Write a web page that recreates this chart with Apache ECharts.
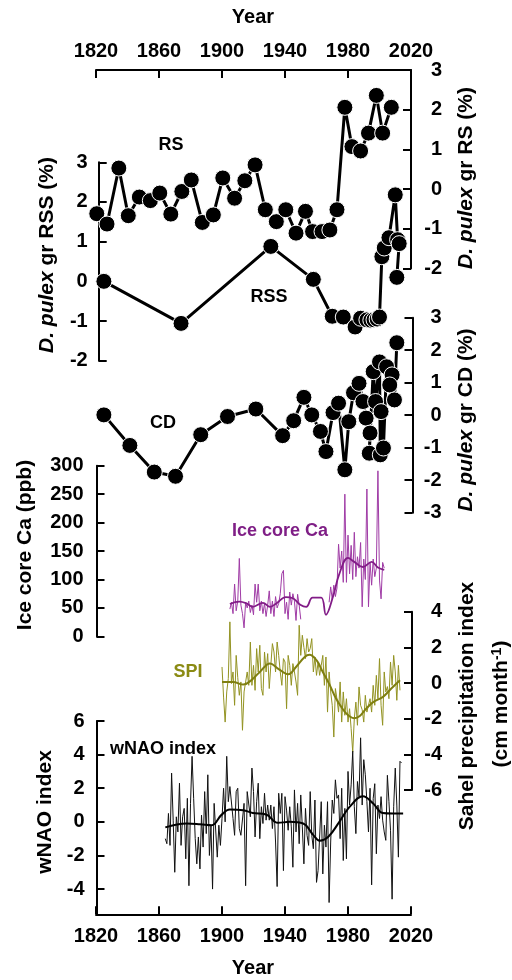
<!DOCTYPE html>
<html>
<head>
<meta charset="utf-8">
<script src="https://cdn.jsdelivr.net/npm/echarts@6/dist/echarts.min.js"></script>
<style>
  html, body { margin: 0; padding: 0; background: #fff; }
  #chart { width: 512px; height: 980px; }
</style>
</head>
<body>
<div id="chart"></div>
<script>
// 字体
const FONT = "Liberation Sans, Arial, sans-serif";

// D. pulex gr RS (%)，右轴
const rsYears = [1820.5, 1827, 1834.5, 1840.5, 1847.5, 1854.5, 1860.5, 1867.5, 1874.5, 1880.5, 1887.5, 1894.5, 1900.5, 1908, 1914.5, 1921,
  1927.5, 1934.5, 1940.5, 1947, 1953, 1957.5, 1963.5, 1968.5, 1973, 1978, 1982.5, 1988, 1993, 1998, 2002, 2007.5];
const rsValues = [-0.62, -0.88, 0.53, -0.67, -0.2, -0.29, -0.1, -0.63, -0.06, 0.23, -0.84, -0.65, 0.28, -0.23, 0.21, 0.61,
  -0.52, -0.82, -0.52, -1.11, -0.56, -1.07, -1.07, -1.03, -0.52, 2.06, 1.07, 0.96, 1.41, 2.36, 1.41, 2.06];

// D. pulex gr RSS (%)，左轴
const rssYears = [1825, 1874, 1931, 1958, 1970, 1977, 1984.5, 1988, 1992, 1994.5, 1996.5, 1998.5, 2000, 2001.5, 2003, 2006, 2010, 2011.5, 2012.5, 2011];
const rssValues = [0, -1.06, 0.88, 0.05, -0.88, -0.9, -1.15, -0.93, -0.97, -0.98, -0.97, -0.95, -0.9, 0.62, 0.84, 1.1, 2.18, 1.05, 0.95, 0.1];

// D. pulex gr CD (%)，右轴
const cdYears = [1825, 1841.5, 1857, 1870.5, 1886.5, 1903.5, 1921.5, 1938.5, 1945.5, 1952, 1957, 1962.5, 1966, 1970.5, 1974, 1978, 1980.5,
  1983.5, 1987, 1989.5, 1991.5, 1994, 1993.5, 1996, 1997.5, 2000, 2000.5, 2001, 2002.5, 2004.5, 2008, 2006.5, 2009.5, 2011];
const cdValues = [0.01, -0.93, -1.75, -1.88, -0.6, -0.04, 0.19, -0.63, -0.17, 0.55, 0.01, -0.5, -1.12, 0.08, 0.37, -1.68, -0.2,
  0.69, 0.98, 0.42, -0.09, -0.55, -1.17, 1.34, 0.42, 1.64, -1.22, 0.11, -1.01, 1.49, 1.24, 0.93, 0.47, 2.23];

// 冰芯 Ca (ppb)，1905 起逐年，1951-1967 缺测
const caStart = 1905;
const caValues = [
  48, 60, 40, 92, 45, 62, 137, 55, 40, 15,
  60, 50, 62, 42, 55, 38, 92, 60, 92, 45,
  62, 40, 58, 35, 55, 80, 40, 62, 35, 70,
  50, 58, 75, 110, 116, 40, 60, 30, 78, 55,
  75, 62, 28, 74, 55, 30,
  null, null, null, null, null, null, null, null, null, null, null, null, null, null, null, null, null,
  60, 87, 65, 90, 70, 85, 162, 120, 150, 95,
  250, 95, 178, 110, 160, 100, 183, 105, 140, 120,
  165, 52, 136, 100, 259, 52, 130, 90, 136, 105,
  120, 291, 99, 66, 130, 120
];
const caSmoothYears = [1905, 1911, 1915.5, 1919.5, 1926, 1930.5, 1934.5, 1940.5, 1945, 1950, 1953.5, 1957.5, 1963, 1966, 1970.5, 1974.5, 1980, 1984, 1989.5, 1995, 1999, 2003];
const caSmoothValues = [57, 61, 58, 52, 59, 52, 58, 69, 67, 55, 52, 68, 68, 38, 70, 110, 138, 131, 122, 131, 121, 117];

// Sahel 降水指数 SPI，1900 起逐年
const spiStart = 1900;
const spiValues = [
  0.9, -0.79, -2.19, -0.5, 0.25, 3.43, -0.03, 0.62, -1.25, 1.55, 0.3,
  -0.69, 0.06, -2.65, -0.5, 0.06, 0.62, -0.13, 2.3, -0.13, 0.99,
  -0.41, 1.93, 0.62, 2.12, -0.31, -0.69, 1.74, 0.62, 1.65, -0.31, 1.0,
  2.21, 1.74, 0.62, 2.3, 1.55, 0.62, -0.13, 1.37, 1.18, -1.44,
  1.55, 0.99, -0.13, 1.09, 0.62, 0.06, -0.69, 3.24, 1.55, 2.68, 2.0,
  1.37, 2.49, 1.74, 1.93, 2.49, 0.62, 1.46, 0.43, 1.18, 0.43,
  0.99, 1.55, -0.13, 1.46, -1.63, 0.62, -0.5, -1.25, -3.03, -0.31, -0.9,
  -1.63, 0.06, -2.19, -0.5, -1.81, -0.88, -2.19, -1.44, -2.56, -3.87,
  -2.0, -1.07, -2.37, -0.22, -1.25, -1.5,
  -2.19, -0.69, -1.63, -1.25, -0.88, -1.63, -0.13, -1.25, 0.43, -0.88, 1.37, -1.25, -2.37, 0.62, -0.5, -0.2,
  -0.88, 1.18, -0.13, 1.55, 0.62, -0.97, 0.99, -0.41
];
const spiSmoothYears = [1900, 1907, 1913.5, 1918.5, 1924, 1930.5, 1935.5, 1942, 1947, 1952.5, 1955.5, 1960, 1964, 1968.5, 1972.5, 1979, 1984, 1987.5, 1991.5, 1996, 2002, 2007.5, 2013];
const spiSmoothValues = [0.06, 0.06, -0.09, 0.15, 0.62, 1.1, 0.81, 0.49, 0.9, 1.46, 1.58, 1.28, 0.62, -0.13, -0.88, -1.72, -1.97, -1.85, -1.44, -1.07, -0.79, -0.31, 0.15];

// 冬季 NAO 指数，1864 起逐年
const naoStart = 1864;
const naoValues = [
  -1.0, -1.3, 0.5, -1.4, 2.9, 0.1, -3.0, 0.3, -0.6, 2.3,
  -1.4, 0.3, 0.8, -2.2, 1.4, -3.8, 1.1, 3.9, 1.4, -1.0,
  -2.5, -0.9, -2.8, 0.4, -1.5, 1.8, -0.7, 2.8, -2.0, -0.2,
  -4.0, 1.1, 1.0, -2.1, -0.2, -1.4, 0.2, 2.0, 0.0, 3.9,
  1.2, 2.1, 2.0, 0.2, -0.8, 1.8, 2.0, -0.4, -0.8, -0.7,
  1.1, -3.8, 1.8, 1.7, 0.3, 3.2, 1.8, -0.9, 1.2, 2.3,
  -1.0, 0.9, -0.1, 1.7, 0.1, 1.0, 0.1, 1.0, -0.4, 0.9,
  -1.2, -3.85, 1.7, 0.5, 1.7, -2.9, 1.5, 0.7, -0.5, 0.9,
  -0.3, -2.7, 1.9, -0.6, 1.1, -1.3, 1.6, -0.3, -2.5, 0.8,
  -0.8, -1.4, 1.8, -0.8, -1.6, 1.3, -3.6, -2.9, -3.0, 1.2,
  -3.1, -0.2, -1.5, 1.2, -4.8, -1.2, 1.3, 0.5, 2.5, 1.4,
  1.6, -1.0, 2.0, -2.3, 0.8, -2.2, 3.0, 1.0, 2.2, 4.2,
  0.9, -0.7, 2.4, 1.5, 5.0, 1.0, 3.7, 2.8, 1.2, -0.6,
  2.0, -3.75, 1.4, 2.27, -1.9, 1.0, 0.2, 1.5, 0.1, -0.6,
  -1.1, 2.77, 1.2, -0.5, -4.6, 0.9, 3.2, 1.0, -2.1, 3.6, 3.5
];
const naoSmoothYears = [1864, 1877.5, 1886, 1893.5, 1899.5, 1905, 1913.5, 1919.5, 1928, 1935.5, 1943, 1951.5, 1958, 1962, 1967.5, 1974.5, 1981, 1989.5, 1996, 2002, 2008.5, 2015];
const naoSmoothValues = [-0.33, -0.1, -0.14, -0.2, 0.4, 0.73, 0.69, 0.53, 0.44, -0.06, 0, -0.1, -0.79, -1.12, -0.89, 0, 0.89, 1.52, 1.09, 0.53, 0.5, 0.5];

// 刻度
const yearTicks = { min: 1820, max: 2020, interval: 40 };
const naoTicks = [-4, -2, 0, 2, 4, 6];

function pairs(xs, ys) {
  return xs.map((x, i) => [x, ys[i]]);
}
function annual(start, values) {
  return values.map((v, i) => [start + i, v]);
}

const axisLine = { show: true, onZero: false, lineStyle: { color: "#000", width: 2 } };
const axisTick = { show: true, inside: true, length: 8, lineStyle: { color: "#000", width: 2 } };
const labelBase = { color: "#000", fontSize: 20, fontWeight: "bold", fontFamily: FONT };

function xAxis(gridIndex, pos, show) {
  return {
    type: "value", gridIndex: gridIndex, position: pos, show: show,
    min: yearTicks.min, max: yearTicks.max, interval: yearTicks.interval,
    axisLine: axisLine, axisTick: axisTick, splitLine: { show: false },
    axisLabel: Object.assign({
      margin: pos === "top" ? 9 : 12, showMinLabel: true, showMaxLabel: true,
      formatter: (v) => String(v),
    }, labelBase),
  };
}
function yAxis(gridIndex, pos, min, max, interval, offset, margin) {
  return {
    type: "value", gridIndex: gridIndex, position: pos, offset: offset,
    min: min, max: max, interval: interval,
    axisLine: axisLine, axisTick: axisTick, splitLine: { show: false },
    axisLabel: Object.assign({ margin: margin, align: "right" }, labelBase),
  };
}

const dotSeries = {
  type: "line", symbol: "circle", symbolSize: 16, showAllSymbol: true, clip: false,
  lineStyle: { color: "#000", width: 3 },
  itemStyle: { color: "#000", borderColor: "#fff", borderWidth: 1 },
  silent: true,
};

const italic = { fontStyle: "italic", fontWeight: "bold", fontSize: 21, fontFamily: FONT, fill: "#000" };
function vText(x, y, text, rich) {
  return {
    type: "text", x: x, y: y, rotation: Math.PI / 2, silent: true,
    style: { text: text, fill: "#000", fontSize: 21, fontWeight: "bold", fontFamily: FONT, align: "center", verticalAlign: "middle", rich: rich || { i: italic } },
  };
}
function hText(x, y, text, color, size) {
  return {
    type: "text", x: x, y: y, silent: true,
    style: { text: text, fill: color || "#000", fontSize: size || 18, fontWeight: "bold", fontFamily: FONT, align: "center", verticalAlign: "middle" },
  };
}

const naoY = yAxis(5, "left", -5.5, 6, 2, -0.5, 12);
naoY.axisTick = Object.assign({ customValues: naoTicks }, axisTick);
naoY.axisLabel = Object.assign({ customValues: naoTicks }, naoY.axisLabel);

const option = {
  animation: false,
  backgroundColor: "#fff",
  grid: [
    { left: 96, right: 101, top: 70, height: 198.5, outerBoundsMode: "none" },
    { left: 96, right: 101, top: 162.3, height: 198.4, outerBoundsMode: "none" },
    { left: 96, right: 101, top: 317.7, height: 195, outerBoundsMode: "none" },
    { left: 96, right: 101, top: 465.7, height: 170.7, outerBoundsMode: "none" },
    { left: 96, right: 101, top: 611.7, height: 178.3, outerBoundsMode: "none" },
    { left: 96, right: 101, top: 721, height: 193.3, outerBoundsMode: "none" },
  ],
  xAxis: [
    xAxis(0, "top", true),
    xAxis(1, "bottom", false),
    xAxis(2, "bottom", false),
    xAxis(3, "bottom", false),
    xAxis(4, "bottom", false),
    xAxis(5, "bottom", true),
  ],
  yAxis: [
    yAxis(0, "right", -2, 3, 1, 0, 31),
    yAxis(1, "left", -2, 3, 1, -2.7, 11),
    yAxis(2, "right", -3, 3, 1, 1.5, 29),
    yAxis(3, "left", 0, 300, 50, -0.5, 13),
    yAxis(4, "right", -6, 4, 2, 1, 30),
    naoY,
  ],
  graphic: [
    hText(253, 17, "Year", "#000", 20),
    hText(253, 968, "Year", "#000", 20),
    vText(47, 255, "{i|D. pulex} gr RSS (%)"),
    vText(466, 178, "{i|D. pulex} gr RS (%)"),
    vText(466, 420, "{i|D. pulex} gr CD (%)"),
    vText(25, 545, "Ice core Ca (ppb)"),
    vText(45, 812, "wNAO index"),
    vText(467, 706, "Sahel precipitation index"),
    vText(501, 704, "(cm month{s|-1})", {
      s: { fontSize: 14, fontWeight: "bold", fontFamily: FONT, fill: "#000", verticalAlign: "top", lineHeight: 16 },
    }),
    hText(171, 145, "RS"),
    hText(269, 297, "RSS"),
    hText(163, 423, "CD"),
    hText(280, 531, "Ice core Ca", "#7f1f86"),
    hText(188, 672, "SPI", "#8b8b14"),
    hText(163, 749, "wNAO index"),
  ],
  series: [
    Object.assign({}, dotSeries, { name: "RSS", xAxisIndex: 1, yAxisIndex: 1, data: pairs(rssYears, rssValues), z: 3 }),
    Object.assign({}, dotSeries, { name: "RS", xAxisIndex: 0, yAxisIndex: 0, data: pairs(rsYears, rsValues), z: 4 }),
    Object.assign({}, dotSeries, { name: "CD", xAxisIndex: 2, yAxisIndex: 2, data: pairs(cdYears, cdValues), z: 4 }),
    {
      type: "line", name: "Ca", xAxisIndex: 3, yAxisIndex: 3, data: annual(caStart, caValues),
      showSymbol: false, connectNulls: false, silent: true, lineStyle: { color: "#a03ca6", width: 1 },
    },
    {
      type: "line", name: "Ca smooth", xAxisIndex: 3, yAxisIndex: 3, data: pairs(caSmoothYears, caSmoothValues),
      showSymbol: false, smooth: 0.4, silent: true, lineStyle: { color: "#821c87", width: 1.8 },
    },
    {
      type: "line", name: "SPI", xAxisIndex: 4, yAxisIndex: 4, data: annual(spiStart, spiValues),
      showSymbol: false, silent: true, lineStyle: { color: "#939322", width: 1 },
    },
    {
      type: "line", name: "SPI smooth", xAxisIndex: 4, yAxisIndex: 4, data: pairs(spiSmoothYears, spiSmoothValues),
      showSymbol: false, smooth: 0.4, silent: true, lineStyle: { color: "#7f7f10", width: 2 },
    },
    {
      type: "line", name: "wNAO", xAxisIndex: 5, yAxisIndex: 5, data: annual(naoStart, naoValues),
      showSymbol: false, silent: true, lineStyle: { color: "#111", width: 1 },
    },
    {
      type: "line", name: "wNAO smooth", xAxisIndex: 5, yAxisIndex: 5, data: pairs(naoSmoothYears, naoSmoothValues),
      showSymbol: false, smooth: 0.4, silent: true, lineStyle: { color: "#000", width: 2 },
    },
  ],
};

const chart = echarts.init(document.getElementById("chart"), null, { renderer: "canvas" });
chart.setOption(option);
</script>
</body>
</html>
